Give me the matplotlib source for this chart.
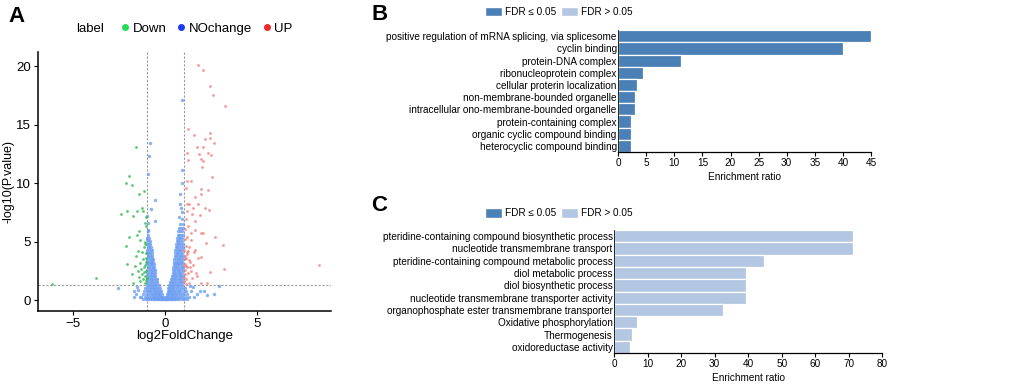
import matplotlib
matplotlib.use("Agg")
import matplotlib.pyplot as plt
from matplotlib.patches import Patch
from matplotlib.lines import Line2D

plt.rcParams["font.family"] = ["Liberation Sans", "DejaVu Sans"]

# ---- panel A data (log2FC, -log10 p) ----
UP_X = [1.78, 2.03, 2.43, 2.59, 3.26, 1.23, 1.56, 2.14, 2.41, 2.44, 2.64, 1.74, 2.05, 1.81,
        2.30, 2.50, 1.20, 1.92, 2.08, 2.01, 1.23, 2.54, 1.20, 1.41, 1.11, 1.97, 2.34, 1.94,
        1.61, 1.16, 1.32, 1.79, 1.52, 2.14, 1.20, 1.47, 1.88, 2.39, 1.12, 1.61, 1.23, 1.63,
        1.39, 1.97, 2.08, 1.20, 2.68, 1.38, 2.23, 1.11, 1.30, 3.12, 1.20, 1.54, 1.92, 1.79,
        1.12, 1.34, 1.05, 1.20, 3.22, 1.25, 1.65, 2.41, 1.47, 1.14, 1.29, 1.92, 2.28, 8.33,
        1.02, 1.05, 1.08, 1.03, 1.07, 1.10, 1.02, 1.15, 1.18, 1.25, 1.35, 1.06, 1.09, 1.04,
        1.13, 1.28, 1.40, 1.50, 1.60, 1.72]
UP_Y = [20.1, 19.7, 18.3, 17.5, 16.6, 14.6, 14.1, 13.8, 14.3, 13.9, 13.4, 13.1, 13.1, 12.5,
        12.6, 12.4, 12.6, 12.1, 11.9, 11.4, 12.0, 10.5, 10.2, 10.2, 9.6, 9.5, 9.4, 9.1,
        8.8, 8.2, 8.2, 8.2, 7.9, 7.9, 7.6, 7.4, 7.3, 7.7, 6.9, 6.8, 6.3, 6.0,
        5.7, 5.7, 5.7, 5.4, 5.4, 5.1, 4.9, 4.6, 4.5, 4.7, 4.1, 4.1, 3.7, 3.6,
        3.6, 3.3, 3.1, 2.8, 2.7, 2.3, 2.3, 2.4, 1.9, 1.8, 1.5, 1.5, 1.5, 3.0,
        4.3, 3.8, 3.5, 3.0, 2.6, 2.2, 2.0, 2.9, 3.9, 4.2, 2.8, 5.2, 6.1, 1.6,
        1.4, 3.4, 2.5, 3.0, 4.3, 2.1]

DOWN_X = [-1.61, -1.96, -2.10, -1.79, -1.16, -1.43, -1.25, -1.20, -1.52, -2.07, -2.39, -1.74,
          -1.03, -1.12, -1.43, -1.52, -1.96, -1.34, -2.10, -1.16, -1.49, -1.25, -1.56, -1.05,
          -2.07, -1.38, -1.65, -1.16, -1.49, -3.73, -1.79, -1.25, -1.01, -1.34, -1.11, -6.14,
          -1.74, -1.02, -1.05, -1.08, -1.03, -1.10, -1.15, -1.20, -1.06, -1.30, -1.22, -1.40,
          -1.08, -1.04, -1.12]
DOWN_Y = [13.1, 10.6, 10.0, 9.8, 9.3, 9.1, 7.9, 7.6, 7.6, 7.6, 7.4, 7.2,
          7.1, 6.6, 5.9, 5.6, 5.4, 5.1, 4.6, 4.5, 4.2, 4.1, 3.8, 3.6,
          3.1, 3.2, 2.9, 2.8, 2.5, 1.9, 2.2, 2.2, 1.9, 1.6, 1.5, 1.35,
          1.5, 3.3, 2.5, 2.1, 1.7, 3.0, 2.4, 3.5, 4.0, 2.7, 1.8, 2.0,
          5.0, 6.3, 4.8]

# scattered non-significant points
NO_X = [0.94, -0.80, -0.87, -0.91, 0.94, 0.91, -0.54, -0.76, 0.80, 0.83, 0.74, -0.54,
        -2.54, -1.67, -1.70, 1.87, 2.28, 2.64, 2.92, 1.74, 2.10, -1.45, -1.60, -1.38,
        -1.52, 1.40, 1.55, 1.50, 1.35, -0.93, -0.98, -0.95, 0.90, 0.92, -0.97, 0.86]
NO_Y = [17.1, 13.4, 12.3, 10.8, 11.1, 10.0, 8.6, 7.8, 9.1, 8.2, 7.1, 6.8,
        1.0, 0.25, 0.77, 0.77, 0.4, 0.55, 1.2, 0.5, 0.77, 0.9, 0.5, 0.3,
        1.1, 0.8, 0.3, 1.1, 1.2, 6.6, 7.2, 6.0, 7.5, 6.9, 5.2, 7.9]

# dense V of non-significant points, one row per -log10 p level
NO_ROWS = [
    (0.08, [-1.22, -1.05, -0.93, -0.82, -0.71, -0.62, -0.53, -0.45, -0.37, -0.3, -0.23, -0.17,
            -0.11, -0.06, -0.02, 0.02, 0.06, 0.11, 0.17, 0.24, 0.31, 0.39, 0.47, 0.56, 0.66,
            0.77, 0.9, 1.04, 1.2]),
    (0.3, [-1.3, -1.12, -0.98, -0.87, -0.77, -0.68, -0.6, -0.52, -0.44, -0.36, -0.29, -0.22,
           -0.15, -0.09, 0.06, 0.11, 0.17, 0.23, 0.3, 0.38, 0.46, 0.55, 0.64, 0.74, 0.85,
           0.97, 1.11, 1.28]),
    (0.55, [-1.18, -1.03, -0.92, -0.82, -0.73, -0.64, -0.56, -0.48, -0.4, -0.33, -0.26, -0.19,
            0.11, 0.16, 0.22, 0.29, 0.36, 0.44, 0.52, 0.61, 0.7, 0.8, 0.91, 1.03, 1.19]),
    (0.8, [-1.15, -1.0, -0.9, -0.8, -0.71, -0.62, -0.54, -0.46, -0.38, -0.3, -0.22,
           0.13, 0.19, 0.26, 0.33, 0.41, 0.49, 0.58, 0.67, 0.77, 0.88, 1.0, 1.14]),
    (1.05, [-1.08, -0.97, -0.88, -0.79, -0.7, -0.61, -0.53, -0.45, -0.37, -0.28,
            0.16, 0.22, 0.29, 0.37, 0.45, 0.54, 0.63, 0.73, 0.84, 0.96, 1.09]),
    (1.3, [-0.98, -0.89, -0.8, -0.71, -0.62, -0.53, -0.44, -0.35,
           0.21, 0.28, 0.36, 0.44, 0.53, 0.62, 0.72, 0.82, 0.93]),
    (1.55, [-0.97, -0.88, -0.79, -0.7, -0.61, -0.52, -0.42,
            0.26, 0.33, 0.41, 0.5, 0.59, 0.68, 0.78, 0.88, 0.97]),
    (1.8, [-0.96, -0.87, -0.78, -0.69, -0.6, -0.51, -0.44,
           0.31, 0.38, 0.46, 0.55, 0.64, 0.73, 0.83, 0.93]),
    (2.05, [-0.97, -0.88, -0.79, -0.7, -0.61, -0.53, 0.36, 0.43, 0.51, 0.6, 0.69, 0.78, 0.88, 0.97]),
    (2.3, [-0.96, -0.87, -0.78, -0.69, -0.6, -0.54, 0.4, 0.47, 0.55, 0.64, 0.73, 0.83, 0.93]),
    (2.55, [-0.97, -0.88, -0.79, -0.7, -0.62, -0.56, 0.42, 0.5, 0.58, 0.67, 0.76, 0.86, 0.96]),
    (2.8, [-0.95, -0.86, -0.77, -0.68, -0.6, 0.45, 0.53, 0.61, 0.7, 0.79, 0.89, 0.98]),
    (3.05, [-0.97, -0.88, -0.79, -0.7, -0.63, 0.47, 0.55, 0.63, 0.72, 0.81, 0.91]),
    (3.3, [-0.96, -0.87, -0.78, -0.7, -0.64, 0.49, 0.57, 0.65, 0.74, 0.84, 0.94]),
    (3.55, [-0.97, -0.88, -0.79, -0.71, -0.66, 0.5, 0.58, 0.67, 0.76, 0.86, 0.96]),
    (3.8, [-0.95, -0.86, -0.77, -0.7, 0.52, 0.6, 0.69, 0.78, 0.88, 0.97]),
    (4.05, [-0.97, -0.88, -0.8, -0.73, 0.54, 0.62, 0.71, 0.8, 0.9]),
    (4.3, [-0.96, -0.87, -0.79, -0.74, 0.56, 0.64, 0.73, 0.83, 0.93]),
    (4.55, [-0.95, -0.86, -0.77, 0.58, 0.66, 0.75, 0.85, 0.95]),
    (4.8, [-0.97, -0.88, -0.8, 0.6, 0.68, 0.77, 0.87, 0.97]),
    (5.05, [-0.94, -0.85, 0.62, 0.7, 0.8, 0.9]),
    (5.3, [-0.96, -0.87, 0.64, 0.73, 0.83, 0.94]),
    (5.6, [-0.92, 0.67, 0.76, 0.87, 0.97]),
    (5.9, [-0.95, 0.7, 0.82, 0.93]),
    (6.2, [0.74, 0.88, 0.96]),
    (6.5, [0.8, 0.95]),
]

# ---- panel B / C data ----
B_TERMS = ["positive regulation of mRNA splicing, via splicesome", "cyclin binding",
           "protein-DNA complex", "ribonucleoprotein complex", "cellular proterin localization",
           "non-membrane-bounded organelle", "intracellular ono-membrane-bounded organelle",
           "protein-containing complex", "organic cyclic compound binding",
           "heterocyclic compound binding"]
B_RATIO = [45.0, 40.0, 11.2, 4.35, 3.4, 2.95, 2.95, 2.3, 2.25, 2.25]
B_TICKS = [0, 5, 10, 15, 20, 25, 30, 35, 40, 45]

C_TERMS = ["pteridine-containing compound biosynthetic process",
           "nucleotide transmembrane transport",
           "pteridine-containing compound metabolic process", "diol metabolic process",
           "diol biosynthetic process", "nucleotide transmembrane transporter activity",
           "organophosphate ester transmembrane transporter", "Oxidative phosphorylation",
           "Thermogenesis", "oxidoreductase activity"]
C_RATIO = [71.2, 71.2, 44.6, 39.5, 39.5, 39.5, 32.4, 6.7, 5.5, 4.7]
C_TICKS = [0, 10, 20, 30, 40, 50, 60, 70, 80]

DARK = "#4A80B5"
LIGHT = "#B3C7E2"
FS = 7.2

fig = plt.figure(figsize=(10.2, 3.86), dpi=100)

# ---------- A: volcano ----------
ax = fig.add_axes([0.0373, 0.194, 0.2872, 0.671])
no_x = list(NO_X)
no_y = list(NO_Y)
for y, xs in NO_ROWS:
    no_x += xs
    no_y += [y] * len(xs)
ax.scatter(no_x, no_y, s=6, color="#6E9FF2", alpha=0.8, linewidths=0)
ax.scatter(DOWN_X, DOWN_Y, s=4, color="#2DBE4E", alpha=0.8, linewidths=0)
ax.scatter(UP_X, UP_Y, s=4, color="#F2807C", alpha=0.8, linewidths=0)
for v in (-1, 1):
    ax.axvline(v, color="#9a9a9a", ls=(0, (2, 1.5)), lw=0.8, zorder=0)
ax.axhline(1.3, color="#9a9a9a", ls=(0, (2, 1.5)), lw=0.8, zorder=0)
ax.set_xlim(-6.9, 9.0)
ax.set_ylim(-0.94, 21.2)
ax.set_xticks([-5, 0, 5])
ax.set_yticks([0, 5, 10, 15, 20])
ax.tick_params(labelsize=9.5, length=3, width=0.8, pad=2)
for s in ("top", "right"):
    ax.spines[s].set_visible(False)
for s in ("left", "bottom"):
    ax.spines[s].set_linewidth(1.1)
ax.set_xlabel("log2FoldChange", fontsize=9.5, labelpad=0)
ax.set_ylabel("-log10(P.value)", fontsize=9)
ax.yaxis.set_label_coords(-0.08, 0.5)

fig.text(0.075, 0.925, "label", fontsize=9.5, va="center")
handles = [Line2D([], [], ls="", marker="o", ms=4, color=c) for c in ("#22DD55", "#1F3BF0", "#F02828")]
fig.legend(handles, ["Down", "NOchange", "UP"], ncol=3, loc="center left",
           bbox_to_anchor=(0.104, 0.925), frameon=False, fontsize=9.5,
           handletextpad=0.1, columnspacing=0.6, handlelength=1.0)

fig.text(0.008, 0.958, "A", fontsize=16, fontweight="bold", va="center")
fig.text(0.364, 0.962, "B", fontsize=16, fontweight="bold", va="center")
fig.text(0.364, 0.468, "C", fontsize=16, fontweight="bold", va="center")


def enrich_bars(rect, terms, ratio, color, ticks):
    bx = fig.add_axes(rect)
    pos = list(range(len(terms)))
    bx.barh(pos, ratio, height=1.0, color=color, edgecolor="white", linewidth=0.9)
    bx.set_ylim(len(terms) - 0.5, -0.5)
    bx.set_xlim(ticks[0], ticks[-1])
    bx.set_xticks(ticks)
    bx.set_yticks(pos)
    bx.set_yticklabels(terms, fontsize=FS)
    bx.tick_params(axis="y", length=0, pad=1)
    bx.tick_params(axis="x", length=3, width=0.8, pad=1, labelsize=FS)
    for s in ("top", "right"):
        bx.spines[s].set_visible(False)
    bx.spines["left"].set_linewidth(0.6)
    bx.spines["bottom"].set_linewidth(0.9)
    bx.set_xlabel("Enrichment ratio", fontsize=FS, labelpad=3)
    return bx


enrich_bars([0.606, 0.606, 0.248, 0.316], B_TERMS, B_RATIO, DARK, B_TICKS)
enrich_bars([0.602, 0.0855, 0.263, 0.3185], C_TERMS, C_RATIO, LIGHT, C_TICKS)

leg_handles = [Patch(facecolor=DARK, edgecolor="white"), Patch(facecolor=LIGHT, edgecolor="white")]
for ypos in (0.969, 0.448):
    fig.legend(leg_handles, ["FDR \u2264 0.05", "FDR > 0.05"], ncol=2, loc="center",
               bbox_to_anchor=(0.548, ypos), frameon=False, fontsize=FS,
               handlelength=1.7, handleheight=1.1, handletextpad=0.3, columnspacing=0.5)

fig.savefig("out.png", dpi=100)
